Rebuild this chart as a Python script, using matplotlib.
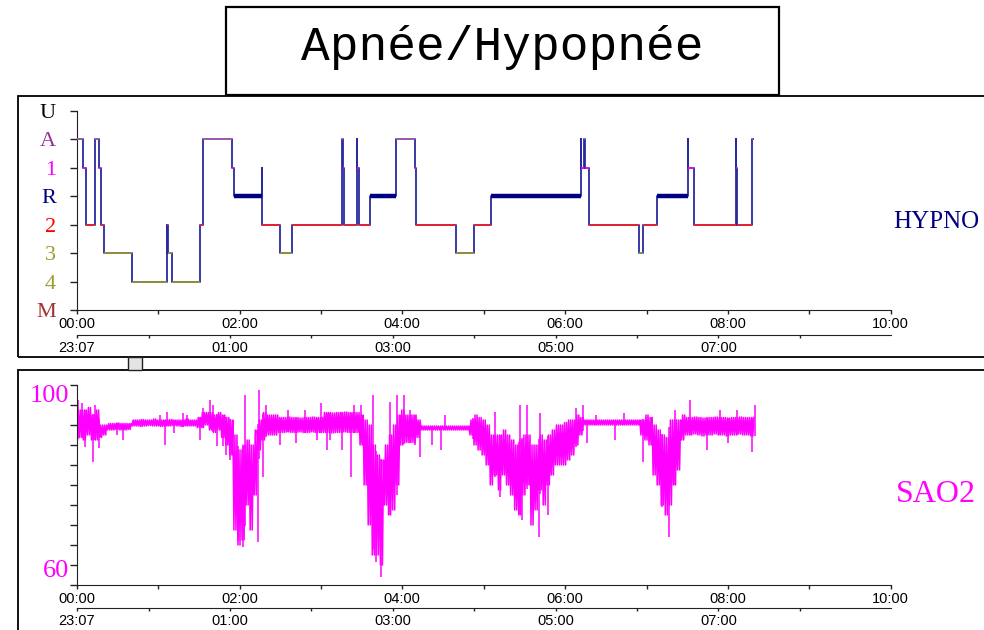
import numpy as np
import matplotlib
matplotlib.use("Agg")
import matplotlib.pyplot as plt
from matplotlib.patches import Rectangle

# ---- hypnogram: stage changes (hours since start) ----
hyp_start = [0.000, 0.081, 0.114, 0.221, 0.270, 0.295, 0.335, 0.679, 1.106, 1.110,
             1.113, 1.116, 1.167, 1.511, 1.548, 1.908, 1.932, 2.276, 2.281, 2.498,
             2.641, 3.263, 3.267, 3.285, 3.440, 3.444, 3.462, 3.603, 3.919, 4.152,
             4.168, 4.660, 4.877, 5.086, 6.195, 6.200, 6.238, 6.246, 6.290, 6.904,
             6.953, 7.125, 7.506, 7.512, 7.584, 8.100, 8.104, 8.116, 8.300]
hyp_stage = ['A', '1', '2', 'A', '1', '2', '3', '4', '2', '3',
             '2', '3', '4', '2', 'A', '1', 'R', '1', '2', '3',
             '2', 'A', '1', '2', 'A', '1', '2', 'R', 'A', '1',
             '2', '3', '2', 'R', 'A', '1', 'A', '1', '2', '3',
             '2', 'R', 'A', '1', '2', 'A', '1', '2', 'A']
hyp_end = 8.305

stage_names = ['M', '4', '3', '2', 'R', '1', 'A', 'U']
stage_label_colors = ['#a83232', '#9c9c2e', '#9c9c2e', '#ff0000', '#000080', '#ff00ff', '#993399', '#000000']
stage_line_colors = {'A': '#b060b0', '1': '#ff00ff', 'R': '#000080', '2': '#ff2020',
                     '3': '#9c9c2e', '4': '#9c9c2e', 'M': '#a83232', 'U': '#000000'}

# ---- SAO2: dense band per 3-minute bin (lo / hi) plus isolated spikes ----
sao2_step = 0.05
sao2_lo = [89, 89.5, 89, 90, 89, 89, 89.5, 90,
           91, 91, 91.1, 91, 91, 91.1,
           91.8, 91.8, 91.7, 91.8, 91.9, 91.8, 91.8, 91.7, 91.8, 91.8, 91.9, 91.8, 91.7, 91.8, 91.8, 91.8,
           91.5, 91.5, 92, 91, 90.5, 91, 89.5, 88, 86, 71,
           68, 69, 76, 71, 78, 87, 89, 90, 90, 90,
           90.5, 90.5, 90.6, 90.5, 90.5, 90.6, 90.5, 90.5, 90.6, 90.5, 90.5,
           90.5, 90.5, 90.4, 90.5, 90.5, 90.6, 90.5, 90.5, 90.5,
           88, 80, 72, 66, 66, 64, 76, 74, 75, 80, 88, 88.5, 88.5, 88.5, 89.5,
           91, 91, 91, 91, 91, 91, 91, 91, 91, 91, 91, 91,
           90, 88, 87, 86, 84, 80, 82, 79, 82, 80, 78, 75, 74, 78, 80, 72, 75, 79, 76, 80,
           82, 84, 84, 84, 85, 86, 88, 90,
           92, 92, 92, 92, 92, 92, 92, 92, 92, 92, 92, 92, 92, 92,
           90, 89, 88, 82, 80, 76, 74, 76, 80, 83, 89,
           90, 90, 90.2, 90, 89.8, 90, 90, 90.2, 90, 90, 89.8, 90, 90, 90.2, 90, 90, 89.8]
sao2_hi = [95, 95, 95, 95.5, 94, 95, 92, 92,
           92.3, 92.3, 92.4, 92.3, 92.3, 92.3,
           93, 93, 93.1, 93, 93, 93.2, 93, 93, 93, 93.1, 93, 93, 93, 93.2, 93, 93,
           93.5, 94.5, 94.5, 94.5, 94, 94.5, 94, 93.5, 93, 90,
           87, 88, 89, 88, 91, 93, 94.5, 94, 94, 94,
           93.5, 93.5, 93.6, 93.5, 93.5, 93.4, 93.5, 93.5, 93.6, 93.5, 93.5,
           94.5, 94.5, 94.4, 94.5, 94.5, 94.6, 94.5, 94.5, 94.5,
           94, 93, 92, 88, 86, 85, 88, 90, 92, 94, 95, 94, 94, 94, 93,
           91.8, 91.8, 91.8, 91.8, 91.8, 91.8, 91.8, 91.8, 91.8, 91.8, 91.8, 91.8,
           93, 94, 93.5, 93, 92, 90, 90, 90, 91, 90, 89, 88, 89, 90, 90, 88, 88, 90, 89, 90,
           91, 92, 92, 92.5, 93, 93, 94, 93.5,
           93, 93, 93, 93, 93, 93, 93, 93, 93, 93, 93, 93, 93, 93,
           93, 94, 93.5, 92, 91, 90, 89.5, 93, 93, 93, 94,
           93.5, 93.5, 93.6, 93.5, 93.4, 93.5, 93.5, 93.6, 93.5, 93.5, 93.4, 93.5, 93.5, 93.6, 93.5, 93.5, 93.5]

spike_t = [0.02, 0.06, 0.10, 0.196, 0.22, 0.28, 0.50, 0.57, 1.02, 1.085,
           1.105, 1.19, 1.30, 1.35, 1.51, 1.55, 1.64, 1.68, 1.72, 1.80,
           1.84, 1.88, 1.985, 2.04, 2.07, 2.23, 2.24, 2.29, 2.33, 2.50,
           2.60, 2.70, 2.80, 2.95, 3.00, 3.07, 3.11, 3.26, 3.37, 3.41,
           3.49, 3.64, 3.68, 3.74, 3.85, 3.93, 4.02, 4.10, 4.15, 4.22,
           4.36, 4.48, 4.52, 4.87, 5.14, 5.20, 5.43, 5.45, 5.47, 5.53,
           5.68, 5.69, 5.79, 6.14, 6.22, 6.27, 6.38, 6.61, 6.72, 6.96,
           7.19, 7.28, 7.35, 7.53, 7.74, 7.90, 8.00, 8.11, 8.29, 8.33]
spike_v = [97, 96.5, 87.7, 84.7, 96, 87.4, 90, 89, 94, 88,
           94.7, 90.5, 94.5, 94, 89, 95.5, 97, 96, 87.8, 87.8,
           86, 85, 69, 67.7, 98, 68.7, 99, 81.7, 96, 88,
           95, 88.5, 95, 89, 96.5, 87, 89, 87, 81.7, 96,
           96, 98, 64.7, 61.7, 96.7, 98, 98, 95, 88, 85.7,
           88, 87, 94, 89.7, 94.7, 77.7, 76, 96, 73, 96,
           69.7, 94.5, 74, 95.5, 96, 88.5, 94, 89, 94.5, 84.7,
           75.7, 69.7, 95, 97, 87, 95, 88.5, 95, 86.7, 96]

main_labels = ['00:00', '02:00', '04:00', '06:00', '08:00', '10:00']
clock_labels = ['23:07', '01:00', '03:00', '05:00', '07:00']
start_clock = 23 + 7 / 60

W, H = 984, 630


def fx(x):
    return x / W


def fy(y):
    return 1 - y / H


fig = plt.figure(figsize=(W / 100, H / 100), dpi=100)

# frames around the panels
for top, bottom in [(96, 357), (370, 645)]:
    fig.add_artist(Rectangle((fx(18), fy(bottom)), (1010 - 18) / W, (bottom - top) / H,
                             transform=fig.transFigure, fill=False, edgecolor='black', lw=1.3))
fig.add_artist(Rectangle((fx(128), fy(370)), 14 / W, 13 / H, transform=fig.transFigure,
                         facecolor='#e4e4e4', edgecolor='#222222', lw=1))

# title box
fig.add_artist(Rectangle((fx(226), fy(95)), (779 - 226) / W, 88 / H, transform=fig.transFigure,
                         facecolor='white', edgecolor='black', lw=1.6, zorder=5))
fig.text(fx(502), fy(47), 'Apnée/Hypopnée', family='Liberation Mono', fontsize=34.5,
         ha='center', va='center', zorder=6)

clock_pos = [((int(c[:2]) + int(c[3:]) / 60) - start_clock) % 24 for c in clock_labels]
clock_minor = [p + 1 for p in clock_pos[1:]] + [clock_pos[1] - 1]


def style_time_axis(ax, offset):
    ax.set_xlim(0, 10)
    ax.set_xticks(range(0, 11, 2), labels=main_labels)
    ax.set_xticks(range(1, 10, 2), minor=True)
    ax.tick_params(axis='x', which='both', length=3, width=1, color='#222222', pad=2,
                   labelsize=10.5)
    for lab in ax.get_xticklabels():
        lab.set_family('Liberation Sans')
    for s in ['top', 'right']:
        ax.spines[s].set_visible(False)
    for s in ['left', 'bottom']:
        ax.spines[s].set_color('#222222')
    sec = ax.secondary_xaxis(offset)
    sec.set_xticks(clock_pos, labels=clock_labels)
    sec.set_xticks(clock_minor, minor=True)
    sec.tick_params(axis='x', which='both', length=2, width=1, color='#222222', pad=2,
                    labelsize=10.5)
    sec.spines['bottom'].set_color('#222222')
    for lab in sec.get_xticklabels():
        lab.set_family('Liberation Sans')


# ---- hypnogram panel ----
ax1 = fig.add_axes([fx(76.7), fy(310.3), 814 / W, 199.6 / H])
ax1.set_ylim(0, 7)
lvl = [stage_names.index(s) for s in hyp_stage]
ends = hyp_start[1:] + [hyp_end]
ax1.step(hyp_start + [hyp_end], lvl + [lvl[-1]], where='post', color='#2a2aa0', lw=1.3)
for t0, t1, s, v in zip(hyp_start, ends, hyp_stage, lvl):
    if s == 'R':
        ax1.hlines(v, t0, t1, color='#000080', lw=3.2, zorder=3)
    else:
        ax1.hlines(v, t0, t1, color=stage_line_colors[s], lw=1.2, zorder=3)
ax1.set_yticks(range(8), labels=stage_names)
ax1.tick_params(axis='y', length=5, width=1, color='#222222', pad=10, labelsize=16)
for lab, c in zip(ax1.get_yticklabels(), stage_label_colors):
    lab.set_color(c)
    lab.set_family('Liberation Serif')
style_time_axis(ax1, -0.124)
fig.text(fx(936), fy(222), 'HYPNO', color='#000080', family='Liberation Serif',
         fontsize=18, ha='center', va='center')

# ---- SAO2 panel ----
ax2 = fig.add_axes([fx(76.7), fy(585), 814 / W, 200 / H])
ax2.set_ylim(60, 100)
t = np.arange(len(sao2_lo)) * sao2_step
# dense zig-zag between the low and high edge of each bin, like the raw trace
offs = np.array([-0.375, -0.125, 0.125, 0.375]) * sao2_step
zt = (t[:, None] + offs[None, :]).ravel()
zv = np.column_stack([sao2_lo, sao2_hi, sao2_lo, sao2_hi]).ravel()
ax2.plot(zt, zv, color='#ff00ff', lw=1.1)
base_lo = np.interp(spike_t, t, sao2_lo)
base_hi = np.interp(spike_t, t, sao2_hi)
for st, sv, bl, bh in zip(spike_t, spike_v, base_lo, base_hi):
    ax2.vlines(st, min(sv, bl), max(sv, bh), color='#ff00ff', lw=1.1)
ax2.set_yticks(np.arange(60, 101, 4), labels=[])
ax2.tick_params(axis='y', length=5, width=1, color='#222222')
ax2.text(-0.009, 97.8, '100', transform=ax2.get_yaxis_transform(), ha='right', va='center',
         color='#ff00ff', family='Liberation Serif', fontsize=19)
ax2.text(-0.009, 62.8, '60', transform=ax2.get_yaxis_transform(), ha='right', va='center',
         color='#ff00ff', family='Liberation Serif', fontsize=19)
style_time_axis(ax2, -0.117)
fig.text(fx(936), fy(494), 'SAO2', color='#ff00ff', family='Liberation Serif',
         fontsize=23, ha='center', va='center')

fig.savefig('out.png', dpi=100)
